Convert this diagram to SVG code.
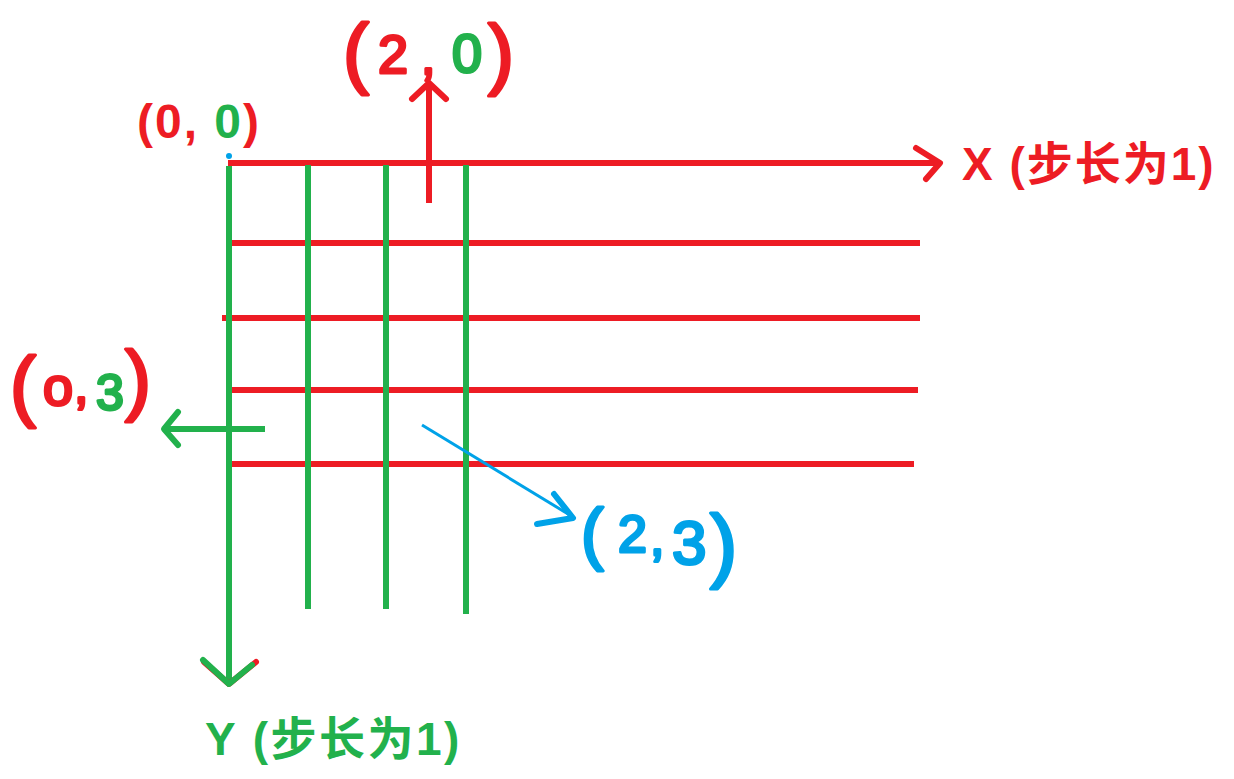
<svg xmlns="http://www.w3.org/2000/svg" width="1234" height="779" viewBox="0 0 1234 779">
<style>
.r{stroke:#ED1C24;stroke-width:6;fill:none;stroke-linecap:butt}
.g{stroke:#22B14C;stroke-width:6;fill:none}
.ah{stroke-width:6;fill:none;stroke-linecap:round;stroke-linejoin:round}
.lbl{font-family:"Liberation Sans","Noto Sans CJK SC",sans-serif;font-weight:bold}
.hw{font-family:"Liberation Sans","Noto Sans CJK SC",sans-serif;stroke-width:3;stroke-linejoin:round}
.red{fill:#ED1C24}.grn{fill:#22B14C}.blu{fill:#00A2E8}
.hr{fill:#ED1C24;stroke:#ED1C24}.hg{fill:#22B14C;stroke:#22B14C}.hb{fill:#00A2E8;stroke:#00A2E8}
</style>
<rect width="1234" height="779" fill="#fff"/>
<g id="grid-x">
<line class="r" x1="228" y1="163" x2="940" y2="163"/>
<line class="r" x1="230" y1="243" x2="920" y2="243"/>
<line class="r" x1="222" y1="318" x2="920" y2="318"/>
<line class="r" x1="232" y1="390" x2="918" y2="390"/>
<line class="r" x1="232" y1="464" x2="914" y2="464"/>
</g>
<g id="grid-y">
<line class="g" x1="229" y1="166" x2="229" y2="685"/>
<line class="g" x1="308" y1="165" x2="308" y2="609"/>
<line class="g" x1="386" y1="165" x2="386" y2="609"/>
<line class="g" x1="466" y1="165" x2="466" y2="614"/>
</g>
<g id="connectors">
<polyline class="ah" stroke="#ED1C24" points="916,148 940,163 926,179"/>
<polyline class="ah" stroke="#ED1C24" points="204,662 229,684 256,662"/>
<polyline class="ah" stroke="#22B14C" points="203,660 229,684 252,665"/>
<line stroke="#ED1C24" stroke-width="6" x1="429" y1="203" x2="429" y2="84"/>
<polyline class="ah" stroke="#ED1C24" points="412,99 429,83 446,99"/>
<line stroke="#22B14C" stroke-width="6" x1="265" y1="429" x2="164" y2="429"/>
<polyline class="ah" stroke="#22B14C" points="178,412 164,429 178,445"/>
<line stroke="#00A2E8" stroke-width="3" x1="422" y1="425" x2="573" y2="517"/>
<polyline class="ah" stroke="#00A2E8" stroke-width="5" points="554,494 573,518 537,524"/>
<circle cx="229" cy="156" r="3" fill="#00A2E8"/>
</g>
<g id="origin-label"><text class="lbl" font-size="48" x="137" y="138" letter-spacing="2"><tspan class="red">(0, </tspan><tspan class="grn">0</tspan><tspan class="red">)</tspan></text></g>
<g id="x-label"><text class="lbl red" font-size="46" x="962" y="180" letter-spacing="2">X (步长为1)</text></g>
<g id="y-label"><text class="lbl grn" font-size="46" x="205" y="755" letter-spacing="2.5">Y (步长为1)</text></g>
<g id="p20" class="hw">
<text class="hr" font-size="78" x="343" y="79">(</text>
<text class="hr" font-size="54" x="378" y="73">2</text>
<text class="hr" font-size="52" x="421" y="74">,</text>
<text class="hg" font-size="54" x="452" y="72">0</text>
<text class="hr" font-size="78" x="488" y="80">)</text>
</g>
<g id="p03" class="hw">
<text class="hr" font-size="78" x="10" y="412">(</text>
<text class="hr" font-size="54" x="43" y="405">o</text>
<text class="hr" font-size="52" x="74" y="403">,</text>
<text class="hg" font-size="50" x="96" y="410">3</text>
<text class="hr" font-size="78" x="125" y="406">)</text>
</g>
<g id="p23" class="hw">
<text class="hb" font-size="68" x="581" y="557">(</text>
<text class="hb" font-size="52" x="618" y="552">2</text>
<text class="hb" font-size="52" x="650" y="555">,</text>
<text class="hb" font-size="62" x="672" y="564">3</text>
<text class="hb" font-size="82" x="710" y="572">)</text>
</g>
</svg>
